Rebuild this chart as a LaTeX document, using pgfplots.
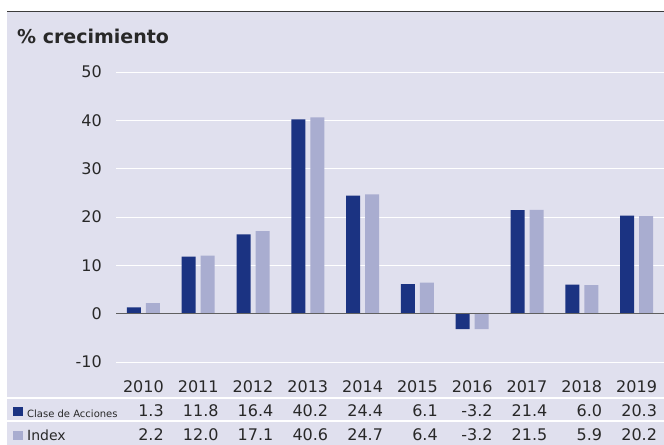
\documentclass[border=0pt]{standalone}
\usepackage{pgfplots}
\pgfplotsset{compat=1.18}
\usepackage{fontspec}
\setmainfont{DejaVu Sans}
\definecolor{bgc}{RGB}{224,224,238}
\definecolor{darkb}{RGB}{27,51,130}
\definecolor{lightb}{RGB}{169,173,208}
\definecolor{txt}{RGB}{40,40,40}
\definecolor{topline}{RGB}{60,60,60}
\definecolor{zeroline}{RGB}{96,96,96}
\begin{document}
\begin{tikzpicture}
\useasboundingbox (0bp,0bp) rectangle (664bp,-445bp);
\fill[bgc] (7bp,-12bp) rectangle (664bp,-445bp);
\draw[line width=1.5bp, topline] (7bp,-11.25bp) -- (664bp,-11.25bp);
\node[anchor=base west, inner sep=0pt, font=\fontsize{19bp}{22bp}\selectfont\bfseries, text=txt] at (17bp,-43bp) {\% crecimiento};
\draw[white, line width=1.5bp] (7bp,-398bp) -- (664bp,-398bp);
\draw[white, line width=1.5bp] (7bp,-421bp) -- (664bp,-421bp);
\fill[darkb] (13bp,-406.5bp) rectangle (22.5bp,-415.5bp);
\fill[lightb] (13bp,-431bp) rectangle (22.5bp,-440bp);
\node[anchor=base west, inner sep=0pt, font=\fontsize{10bp}{12bp}\selectfont, text=txt] at (27bp,-417bp) {Clase de Acciones};
\node[anchor=base west, inner sep=0pt, font=\fontsize{14bp}{17bp}\selectfont, text=txt] at (27bp,-440bp) {Index};
\begin{axis}[at={(116bp,-362bp)}, anchor=south west, scale only axis,
  width=548bp, height=290bp,
  xmin=-0.5, xmax=9.5, ymin=-10, ymax=50,
  axis line style={draw=none}, tick style={draw=none}, major tick length=0pt,
  ytick={-10,0,10,20,30,40,50}, yticklabels={-10,0,10,20,30,40,50},
  ymajorgrids, major grid style={white, line width=1bp},
  xtick={0,1,2,3,4,5,6,7,8,9},
  xticklabels={{2010\\1.3\\2.2},{2011\\11.8\\12.0},{2012\\16.4\\17.1},{2013\\40.2\\40.6},{2014\\24.4\\24.7},{2015\\6.1\\6.4},{2016\\-3.2\\-3.2},{2017\\21.4\\21.5},{2018\\6.0\\5.9},{2019\\20.3\\20.2}},
  yticklabel style={inner sep=0pt, anchor=east, xshift=-14bp, font=\fontsize{16bp}{19bp}\selectfont, text=txt},
  xticklabel style={inner sep=0pt, anchor=north, yshift=-18.3bp, align=right, font=\fontsize{16bp}{24bp}\selectfont, text=txt},
  ybar, bar width=14bp, clip=false]
\addplot[fill=darkb, draw=none, bar shift=-9.5bp] coordinates {(0,1.3) (1,11.8) (2,16.4) (3,40.2) (4,24.4) (5,6.1) (6,-3.2) (7,21.4) (8,6.0) (9,20.3)};
\addplot[fill=lightb, draw=none, bar shift=9.5bp] coordinates {(0,2.2) (1,12.0) (2,17.1) (3,40.6) (4,24.7) (5,6.4) (6,-3.2) (7,21.5) (8,5.9) (9,20.2)};
\draw[line width=1.3bp, zeroline] (axis cs:-0.5,0) -- (axis cs:9.5,0);
\end{axis}
\end{tikzpicture}
\end{document}
